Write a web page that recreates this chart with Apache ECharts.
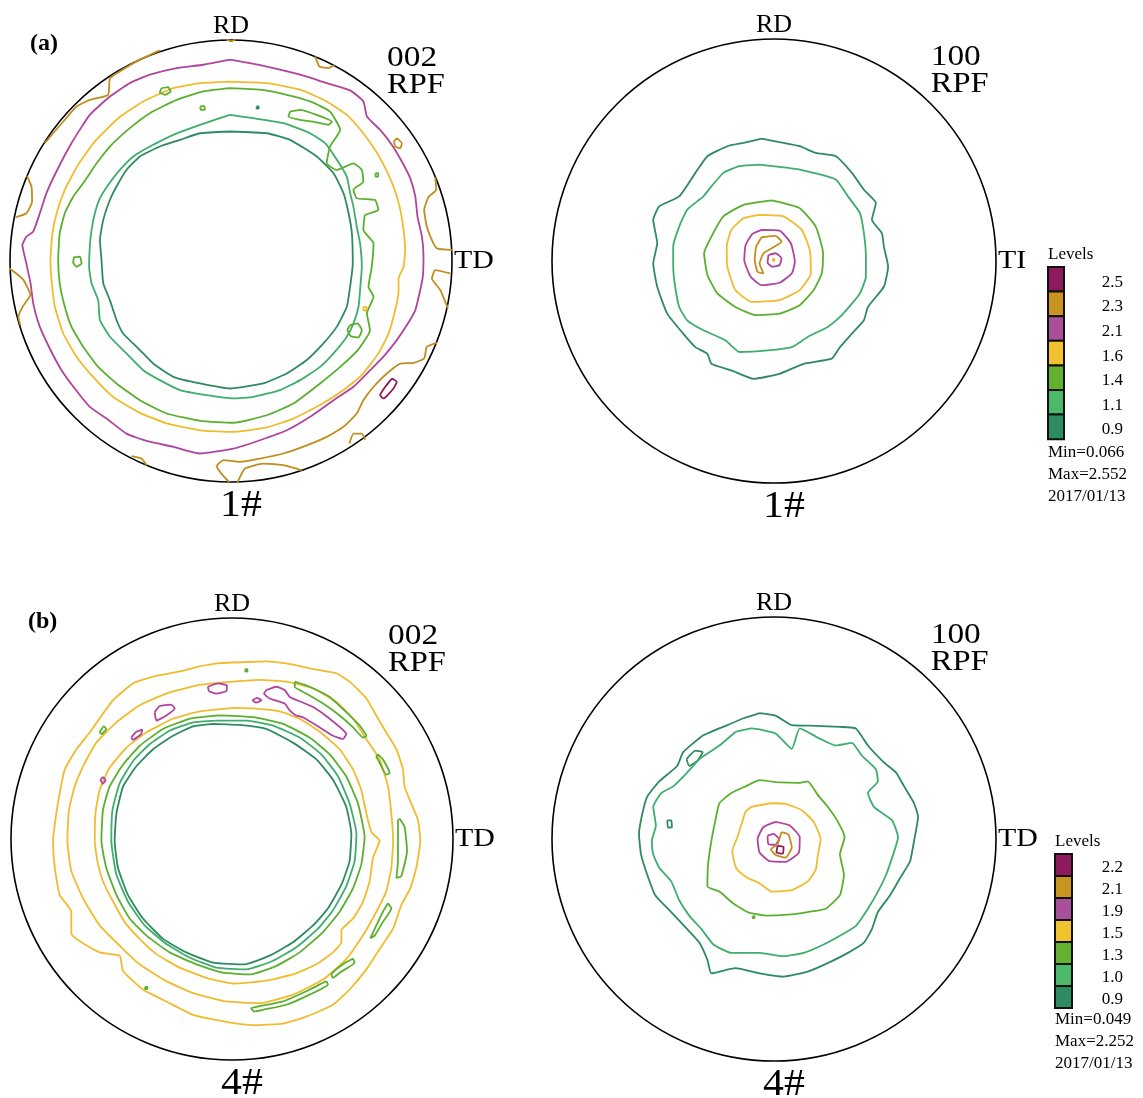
<!DOCTYPE html>
<html><head><meta charset="utf-8">
<script src="https://cdn.jsdelivr.net/npm/echarts@6/dist/echarts.min.js"></script>
<style>html,body{margin:0;padding:0;background:#fff}#c{width:1143px;height:1098px}</style>
</head><body><div id="c"></div><script>
// ---------- level colours (index 0 = lowest level) ----------
const lineColors = ['#2E8B60', '#3DAE6C', '#5AB02E', '#F0BC2E', '#B0449E', '#C08E1E', '#8E1A5C'];
const boxColors  = ['#2E8C62', '#4CB86A', '#62B230', '#F0C22E', '#A8509A', '#C8961E', '#8E1A5E'];
const levelsA = ['0.9', '1.1', '1.4', '1.6', '2.1', '2.3', '2.5'];
const levelsB = ['0.9', '1.0', '1.3', '1.5', '1.9', '2.1', '2.2'];
const statsA = ['Min=0.066', 'Max=2.552', '2017/01/13'];
const statsB = ['Min=0.049', 'Max=2.252', '2017/01/13'];
const sampleNames = ['1#', '1#', '4#', '4#'];
const poleNames = [['002', 'RPF'], ['100', 'RPF'], ['002', 'RPF'], ['100', 'RPF']];
const tdNames = ['TD', 'TI', 'TD', 'TD'];

// ---------- contour data: projected coordinates, unit circle radius = 100 ----------
// (a) 002, 1#
const a002_09 = [[-0.5,58.6],[16.2,57.8],[26.7,54.8],[38.8,47.3],[46.4,39.7],[50.9,30.7],[53.2,21.6],[54.7,12.5],[55.1,-1.1],[53.9,-11.6],[52.4,-20.7],[47.9,-29.7],[41.8,-37.3],[34.3,-44.8],[25.2,-50.9],[14.6,-55.4],[-0.5,-57.7],[-14.0,-55.4],[-26.1,-52.4],[-35.2,-46.4],[-41.2,-40.3],[-48.8,-32.8],[-51.8,-26.7],[-54.8,-17.7],[-57.8,-10.1],[-58.6,0.5],[-59.3,9.5],[-57.8,18.6],[-54.8,27.6],[-51.8,33.7],[-47.3,41.2],[-41.2,47.3],[-32.2,51.8],[-23.1,54.8],[-14.0,57.8]];
const a002_11 = [[-0.5,66.1],[10.1,64.6],[23.7,62.4],[35.8,57.8],[42.6,53.3],[47.9,45.8],[52.4,38.2],[53.9,30.7],[55.4,24.6],[56.9,15.6],[58.4,8.0],[59.2,-2.6],[58.4,-13.1],[57.7,-20.7],[55.4,-28.2],[52.4,-34.3],[46.4,-41.8],[40.3,-47.9],[31.3,-53.9],[22.2,-58.4],[10.1,-61.5],[1.1,-62.2],[-11.0,-60.7],[-23.1,-58.4],[-32.2,-53.9],[-39.7,-49.4],[-47.3,-41.8],[-54.8,-34.3],[-59.3,-26.7],[-60.1,-17.7],[-63.1,-10.1],[-64.2,-2.6],[-63.9,6.5],[-63.1,14.0],[-61.6,21.6],[-59.3,28.4],[-55.6,34.4],[-50.3,41.2],[-44.2,47.3],[-36.7,51.8],[-26.1,57.1],[-14.0,61.6]];
const a002_14 = [[-0.5,78.2],[13.1,77.5],[25.2,75.2],[35.8,72.2],[44.8,67.6],[49.4,59.3],[44.8,51.8],[43.3,44.2],[47.9,41.2],[55.4,44.2],[59.2,41.2],[59.9,35.9],[55.4,32.2],[56.9,28.4],[65.2,27.6],[66.7,23.1],[60.7,20.8],[59.9,14.0],[64.5,8.0],[63.7,-2.6],[62.2,-11.6],[64.5,-16.2],[61.5,-23.7],[62.9,-31.3],[57.4,-40.3],[49.4,-47.9],[40.3,-55.4],[28.2,-64.5],[16.2,-69.8],[1.1,-73.2],[-14.0,-72.3],[-29.1,-69.0],[-41.2,-63.0],[-51.8,-55.4],[-60.1,-47.9],[-66.9,-38.8],[-72.2,-29.7],[-75.6,-19.2],[-77.5,-10.1],[-78.2,0.5],[-77.5,12.5],[-75.2,21.6],[-71.4,29.1],[-66.9,35.2],[-60.8,44.2],[-54.8,51.8],[-45.8,60.1],[-36.7,66.9],[-24.6,72.9],[-12.5,76.7]];
const a002_16 = [[-0.5,81.2],[16.2,80.5],[31.3,77.5],[43.3,72.2],[52.4,66.1],[59.2,58.6],[65.2,50.3],[69.8,42.0],[73.5,33.7],[76.3,24.6],[78.1,14.0],[78.8,5.0],[78.1,-2.6],[75.8,-7.9],[75.8,-13.9],[74.3,-22.2],[71.3,-32.8],[66.7,-41.8],[59.2,-51.6],[50.9,-58.4],[40.3,-65.2],[28.2,-71.3],[16.2,-75.3],[1.1,-77.3],[-14.0,-76.6],[-29.1,-73.5],[-41.2,-68.7],[-53.3,-61.5],[-62.4,-52.4],[-69.9,-43.3],[-75.9,-32.8],[-79.7,-20.7],[-81.2,-8.6],[-81.7,0.5],[-80.8,12.5],[-78.7,22.3],[-75.2,32.2],[-69.2,43.5],[-61.6,54.1],[-51.0,64.6],[-39.7,72.2],[-26.1,78.2],[-14.0,80.5]];
const a002_21 = [[-0.5,91.1],[16.2,88.0],[31.3,84.3],[43.3,80.5],[53.9,77.2],[59.9,72.2],[61.5,65.4],[67.5,59.3],[72.8,52.5],[77.3,45.0],[81.1,37.4],[83.4,29.1],[84.4,20.1],[86.4,11.0],[87.1,2.0],[86.8,-7.1],[85.3,-14.6],[83.4,-22.2],[79.6,-29.0],[75.0,-35.8],[69.0,-43.3],[63.0,-49.4],[55.4,-56.9],[46.4,-63.0],[35.8,-70.5],[25.2,-76.6],[13.1,-81.1],[1.1,-84.9],[-14.0,-87.1],[-26.1,-84.1],[-38.2,-81.4],[-47.3,-78.1],[-56.3,-71.3],[-63.9,-66.0],[-70.7,-57.7],[-76.7,-49.4],[-82.0,-39.6],[-86.8,-29.0],[-89.5,-19.2],[-90.7,-10.1],[-92.6,-1.1],[-94.4,7.2],[-92.6,11.0],[-89.5,13.3],[-86.5,21.6],[-83.5,30.7],[-79.0,40.5],[-72.2,53.3],[-63.9,66.1],[-54.8,74.4],[-45.8,80.5],[-36.7,84.3],[-24.6,87.3],[-12.5,88.8]];
const a002_23a = [[-32.2,95.3],[-41.2,91.1],[-50.3,85.8],[-54.8,82.7],[-55.6,75.2],[-63.9,72.9],[-69.9,69.9],[-75.2,63.9],[-80.5,57.8],[-84.3,53.3]];
const a002_23b = [[-92.3,38.5],[-90.3,33.7],[-90.0,26.9],[-92.6,21.6],[-97.4,19.8]];
const a002_23c = [[-100.3,-3.3],[-94.1,-8.3],[-90.8,-15.4],[-94.1,-20.4],[-96.2,-25.2],[-95.3,-29.0]];
const a002_23d = [[38.1,92.6],[40.0,88.0],[44.1,87.3],[46.7,88.6]];
const a002_23e = [[92.4,37.9],[92.9,32.2],[89.4,29.1],[87.4,23.1],[88.6,15.6],[90.9,9.5],[93.2,5.7],[100.3,5.0]];
const a002_23f = [[99.2,-5.6],[92.4,-4.1],[90.9,-7.9],[94.7,-13.1],[96.9,-18.4],[98.2,-21.4]];
const a002_23g = [[93.2,-37.0],[88.6,-38.8],[87.4,-44.1],[82.6,-46.1],[76.6,-46.4],[70.5,-50.9],[64.5,-56.9],[59.9,-63.0],[56.9,-69.0],[50.9,-75.0],[43.3,-79.6],[34.3,-83.4],[23.7,-87.1],[13.1,-89.4],[4.1,-90.9],[-3.5,-90.1],[-6.5,-92.9],[-3.8,-96.9],[-0.8,-100.0]];
const a002_23h = [[2.9,-100.3],[6.3,-93.9],[14.6,-91.7],[23.7,-92.4],[32.0,-94.7]];
const a002_23i = [[53.6,-82.6],[55.4,-78.1],[59.2,-78.1],[60.7,-80.8]];
const a002_23j = [[-45.0,-88.3],[-40.5,-89.4],[-38.2,-92.4]];
const a002_23k = [[-2.0,100.1],[0,99.4],[2.0,100.1]];
const a002_23l = [[75.0,55.6],[77.3,53.3],[76.6,51.0],[74.3,51.8],[73.8,54.1]];
const a002_25 = [[72.8,-53.2],[75.0,-54.7],[73.5,-57.7],[69.0,-62.2],[67.5,-60.7],[69.8,-56.9]];
const a002_14i1 = [[-31.4,78.2],[-28.4,78.7],[-27.3,76.7],[-29.9,75.2],[-32.2,76.3]];
const a002_14i2 = [[26.7,67.6],[31.3,68.4],[38.8,66.1],[45.6,63.1],[44.1,61.6],[38.8,62.7],[31.3,63.9],[26.0,65.4]];
const a002_14i3 = [[-71.1,1.7],[-68.4,2.0],[-67.6,-1.1],[-69.9,-2.6],[-71.4,-0.8]];
const a002_14i4 = [[53.9,-29.0],[57.2,-28.2],[59.2,-31.3],[57.7,-34.6],[54.2,-34.0],[52.7,-31.3]];
const a002_14i5 = [[-14.0,69.9],[-12.2,70.2],[-11.8,68.7],[-13.6,68.4]];
const a002_14i6 = [[65.4,39.7],[66.6,39.7],[66.6,38.2],[65.4,38.2]];
const a002_11i1 = [[11.6,69.9],[12.5,69.9],[12.5,69.0],[11.6,69.0]];
const a002_16i1 = [[59.9,-20.7],[61.5,-21.0],[61.1,-22.5],[59.9,-22.2]];

// (a) 100, 1#
const a100_09 = [[-5.6,55.1],[4.3,53.2],[11.6,51.7],[18.8,48.7],[27.8,47.2],[35.1,39.7],[40.5,32.1],[45.9,26.1],[44.1,18.6],[48.6,12.5],[49.5,6.5],[51.4,-2.6],[49.5,-11.6],[42.3,-20.7],[40.5,-26.7],[35.1,-32.7],[29.7,-38.8],[26.0,-44.0],[13.4,-46.3],[2.5,-50.8],[-9.2,-53.1],[-19.2,-49.3],[-28.2,-46.3],[-30.0,-41.8],[-35.4,-38.8],[-40.9,-32.7],[-48.1,-23.7],[-52.6,-11.6],[-54.4,-1.1],[-52.6,8.0],[-54.4,18.6],[-51.7,24.6],[-42.7,29.1],[-35.4,39.7],[-30.0,47.2],[-21.0,51.7],[-13.7,53.2]];
const a100_11 = [[-6.5,43.4],[11.6,41.2],[27.8,36.7],[33.3,29.1],[38.7,21.6],[40.5,12.5],[41.4,2.0],[41.4,-7.1],[38.7,-14.6],[35.1,-19.2],[29.7,-25.2],[24.2,-29.7],[15.2,-34.2],[8.0,-38.8],[-2.9,-40.3],[-15.6,-41.0],[-21.9,-35.7],[-31.8,-31.2],[-39.1,-26.7],[-42.7,-20.7],[-44.5,-11.6],[-45.4,-2.6],[-45.4,6.5],[-42.7,15.5],[-39.1,23.1],[-31.8,29.1],[-28.2,33.6],[-22.8,39.7],[-15.6,42.7]];
const a100_14 = [[-1.1,27.3],[11.6,23.8],[18.8,15.5],[22.1,3.5],[21.5,-5.6],[17.9,-13.1],[11.6,-19.9],[2.5,-23.7],[-8.3,-24.4],[-17.4,-20.7],[-25.5,-14.6],[-30.0,-6.3],[-31.5,3.5],[-28.2,11.0],[-22.8,20.1],[-13.7,25.3]];
const a100_16 = [[-6.5,20.8],[4.3,20.1],[12.5,14.0],[16.1,5.0],[16.6,-5.6],[11.6,-13.1],[2.5,-17.6],[-10.1,-18.4],[-17.4,-13.1],[-21.0,-2.6],[-21.3,6.5],[-19.2,14.0],[-13.7,19.3]];
const a100_21 = [[-5.6,14.0],[2.5,13.7],[7.6,8.0],[9.4,-0.3],[8.0,-5.6],[2.5,-9.8],[-5.6,-10.9],[-10.5,-7.1],[-13.4,0.5],[-12.8,7.2],[-9.8,12.1]];
const a100_21i = [[-2.5,2.7],[0.7,3.5],[3.4,1.2],[2.5,-1.8],[-0.7,-2.6],[-2.9,-0.8]];
const a100_23 = [[-5.6,10.7],[0.7,11.3],[3.4,8.7],[-1.1,5.7],[-4.7,3.5],[-6.5,-1.1],[-4.7,-5.6],[-7.4,-4.8],[-8.7,0.5],[-8.0,6.5]];
const a100_23i = [[-0.6,0.9],[0.2,0.9],[0.2,0.1],[-0.6,0.1]];

// (b) 002, 4#
const b002_09 = [[-8.6,52.1],[3.5,51.6],[15.5,49.8],[27.6,43.6],[38.2,36.0],[45.7,26.8],[51.7,14.5],[54.0,2.3],[53.2,-10.0],[49.5,-20.7],[43.4,-31.4],[36.7,-39.1],[27.6,-46.7],[17.0,-52.8],[5.7,-56.7],[-8.6,-55.9],[-20.7,-51.3],[-31.2,-45.2],[-40.3,-36.0],[-47.1,-25.3],[-51.6,-13.0],[-53.1,-0.8],[-52.3,11.5],[-49.3,23.7],[-43.3,32.9],[-35.7,40.6],[-26.7,46.7],[-17.6,51.0]];
const b002_10 = [[-7.1,53.6],[6.5,53.6],[18.6,51.3],[30.6,45.9],[40.4,38.3],[48.0,28.3],[53.2,16.1],[56.3,2.3],[55.5,-10.0],[51.7,-21.4],[45.7,-32.2],[38.9,-40.6],[29.1,-49.0],[18.6,-55.1],[6.5,-59.0],[-7.1,-58.2],[-19.2,-53.6],[-29.7,-47.5],[-39.5,-39.1],[-47.1,-28.3],[-52.3,-16.1],[-54.6,-0.8],[-54.1,13.0],[-50.8,25.3],[-44.8,35.2],[-37.3,42.9],[-28.2,49.0],[-17.6,52.8]];
const b002_13 = [[-5.6,55.9],[9.5,55.1],[23.1,52.1],[35.1,45.9],[44.2,38.3],[51.7,28.3],[57.0,16.1],[60.0,0.8],[58.5,-11.5],[54.8,-22.2],[48.7,-32.9],[41.2,-42.1],[30.6,-51.3],[20.1,-57.4],[8.0,-61.3],[-4.1,-60.5],[-16.1,-56.7],[-28.2,-51.3],[-38.8,-43.6],[-46.3,-36.0],[-52.3,-25.3],[-56.9,-13.0],[-59.1,-0.8],[-58.4,13.0],[-55.4,23.7],[-49.3,33.7],[-41.8,42.1],[-31.2,49.8],[-19.2,54.4]];
const b002_15in = [[0.5,59.3],[11.0,59.0],[21.6,57.7],[30.6,54.4],[39.7,48.5],[48.7,40.6],[54.8,31.4],[58.5,22.2],[60.8,11.5],[63.1,3.1],[66.8,-0.8],[63.8,-8.4],[62.3,-19.1],[59.3,-28.3],[54.8,-36.0],[49.5,-41.3],[49.5,-46.7],[45.7,-51.3],[38.2,-56.7],[27.6,-61.3],[14.0,-64.3],[0.5,-65.4],[-11.6,-62.8],[-23.7,-58.2],[-34.2,-52.1],[-41.8,-45.2],[-48.6,-37.5],[-53.8,-28.3],[-58.4,-19.1],[-60.9,-10.0],[-62.1,-0.8],[-61.8,11.5],[-59.9,22.2],[-55.4,32.2],[-47.8,41.3],[-38.8,48.2],[-26.7,54.4],[-14.6,57.7]];
const b002_15mid = [[0.5,71.2],[12.5,72.0],[24.6,71.2],[36.7,68.1],[47.2,62.0],[54.8,54.4],[60.8,45.2],[66.8,36.0],[70.6,23.7],[72.1,11.5],[72.9,-0.8],[72.1,-13.0],[69.8,-23.7],[65.3,-32.9],[59.3,-43.6],[51.7,-54.4],[41.2,-63.6],[27.6,-70.4],[12.5,-74.3],[-2.6,-73.5],[-17.6,-69.7],[-29.7,-64.3],[-41.8,-56.7],[-49.3,-49.8],[-59.9,-39.1],[-67.4,-26.8],[-72.7,-14.5],[-74.5,-0.8],[-73.8,13.0],[-71.2,23.7],[-67.4,32.9],[-61.4,43.6],[-52.3,52.8],[-41.8,60.5],[-29.7,65.8],[-14.6,69.7]];
const b002_15out = [[6.5,80.1],[15.5,80.4],[27.6,78.9],[38.2,76.6],[47.2,75.0],[53.2,71.2],[60.8,63.6],[65.3,55.9],[69.8,48.2],[74.4,40.6],[77.4,31.4],[78.1,23.7],[81.1,16.1],[84.2,8.4],[85.2,-0.8],[83.4,-13.0],[80.7,-22.2],[76.6,-29.9],[72.9,-40.6],[66.8,-49.8],[60.8,-59.0],[53.2,-68.1],[45.7,-75.0],[33.6,-80.4],[23.1,-83.5],[9.5,-84.2],[-2.6,-82.7],[-17.6,-79.6],[-29.7,-73.5],[-40.3,-68.1],[-49.3,-59.7],[-50.8,-52.8],[-59.9,-51.3],[-72.7,-42.9],[-72.7,-32.9],[-78.0,-25.3],[-80.2,-13.0],[-81.0,-0.8],[-79.5,11.5],[-77.7,22.2],[-75.7,31.4],[-70.4,40.6],[-64.4,48.2],[-53.8,62.8],[-44.8,70.4],[-35.7,73.5],[-23.7,75.8],[-14.6,78.1],[-5.6,79.6]];
const b002_19a = [[-10.9,68.9],[-6.3,70.4],[-2.3,69.4],[-2.6,66.9],[-7.1,65.8],[-10.4,66.9]];
const b002_19b = [[-35.0,57.4],[-32.7,60.2],[-27.5,60.8],[-25.9,59.0],[-29.7,55.9],[-34.2,53.6]];
const b002_19c = [[-45.6,45.9],[-43.3,48.5],[-40.6,49.5],[-41.1,47.5],[-44.9,44.9]];
const b002_19d = [[-59.6,26.8],[-58.4,28.0],[-57.2,26.5],[-58.4,25.0]];
const b002_19e = [[9.2,62.8],[11.3,63.9],[13.3,62.8],[11.0,61.7]];
const b002_19f = [[15.6,67.4],[20.1,68.9],[23.8,67.4],[26.1,64.3],[31.4,62.0],[36.7,59.7],[44.2,54.4],[51.7,47.5],[50.2,45.2],[45.7,46.7],[39.7,50.5],[32.1,55.1],[29.1,55.9],[26.1,58.2],[23.8,61.3],[17.0,63.6],[14.5,65.8]];
const b002_13a = [[28.4,71.2],[35.1,68.9],[44.2,64.3],[51.7,57.4],[57.8,51.3],[60.8,46.7],[59.3,45.9],[54.8,50.5],[48.7,55.9],[41.2,61.3],[33.6,65.8],[28.4,68.9]];
const b002_13b = [[66.1,38.3],[68.3,36.0],[71.3,29.9],[69.8,29.1],[66.8,34.5],[65.3,37.5]];
const b002_13c = [[75.9,9.2],[78.1,5.4],[79.2,-5.4],[76.6,-16.8],[74.4,-17.6],[75.1,-10.0],[75.1,3.1],[75.1,8.4]];
const b002_13d = [[70.6,-29.1],[72.1,-31.4],[68.3,-37.5],[64.6,-43.6],[62.6,-44.9],[64.6,-40.6],[68.3,-32.9]];
const b002_13e = [[54.8,-54.1],[55.5,-55.9],[48.7,-60.5],[45.7,-62.8],[45.0,-61.3],[50.2,-56.7]];
const b002_13f = [[42.7,-64.3],[43.4,-65.8],[35.1,-70.4],[24.6,-75.0],[14.0,-77.3],[10.1,-78.1],[8.7,-76.6],[11.8,-75.8],[23.1,-73.5],[33.6,-68.9],[39.7,-65.8]];
const b002_13g = [[-59.9,48.2],[-58.1,51.0],[-56.9,49.8],[-59.1,47.5]];
const b002_13h = [[6.0,76.8],[7.0,76.8],[7.0,75.8],[6.0,75.8]];
const b002_13k = [[-39.3,-66.9],[-38.3,-66.9],[-38.3,-67.9],[-39.3,-67.9]];

// (b) 100, 4#
const b100_09 = [[-6.5,56.7],[0.7,55.6],[8.0,51.3],[18.8,51.0],[29.7,50.5],[36.9,49.8],[42.3,42.1],[49.5,34.5],[55.0,29.9],[58.6,23.7],[63.1,16.1],[64.9,10.0],[63.1,-0.8],[61.3,-10.0],[56.8,-17.6],[52.3,-25.3],[46.8,-32.9],[44.1,-40.6],[40.5,-46.7],[33.3,-51.3],[24.2,-55.9],[15.2,-59.7],[4.3,-62.0],[-6.5,-60.5],[-17.4,-58.2],[-28.2,-60.5],[-30.0,-54.4],[-33.6,-46.7],[-39.1,-40.6],[-46.3,-32.9],[-53.5,-25.3],[-57.1,-16.1],[-59.9,-6.9],[-60.8,2.3],[-59.3,11.5],[-57.1,19.1],[-51.7,26.0],[-43.6,32.9],[-40.9,39.1],[-31.8,46.7],[-21.0,51.3],[-13.7,54.4]];
const b100_09i1 = [[-48.1,8.4],[-46.3,8.4],[-46.0,5.4],[-47.7,5.1]];
const b100_09i2 = [[-39.4,36.0],[-35.4,39.8],[-32.2,39.1],[-34.5,35.2],[-38.2,32.9]];
const b100_10 = [[-17.4,48.2],[-10.1,49.8],[0.7,47.5],[8.0,40.6],[11.6,49.8],[20.6,45.2],[27.8,42.1],[35.1,43.3],[39.6,37.5],[45.9,31.4],[46.8,26.0],[42.3,20.7],[45.0,14.5],[53.2,8.4],[55.9,0.8],[53.2,-8.4],[50.5,-16.1],[46.8,-23.7],[42.3,-31.4],[36.9,-39.1],[29.7,-43.6],[22.4,-47.5],[13.4,-51.3],[4.3,-52.8],[-6.5,-51.3],[-19.2,-51.3],[-27.3,-47.5],[-32.7,-40.6],[-38.2,-34.5],[-42.7,-27.6],[-46.3,-19.1],[-51.7,-13.0],[-54.4,-6.9],[-55.0,-0.8],[-53.2,6.1],[-54.4,14.5],[-50.8,20.7],[-45.4,23.7],[-39.1,29.9],[-33.6,36.0],[-24.6,42.1]];
const b100_13 = [[0.7,25.6],[11.6,25.3],[15.2,26.0],[19.7,19.9],[24.2,14.5],[28.8,7.7],[31.8,0.8],[29.7,-6.9],[31.5,-16.1],[29.7,-25.3],[23.3,-31.4],[15.2,-32.9],[6.1,-34.1],[-3.8,-34.5],[-11.9,-32.9],[-18.3,-29.1],[-24.6,-23.7],[-30.0,-21.4],[-29.7,-11.5],[-28.2,-0.8],[-26.4,8.4],[-24.6,16.1],[-19.2,20.7],[-12.8,23.7],[-6.5,26.5]];
const b100_13i = [[-9.6,-34.8],[-8.8,-34.8],[-8.8,-35.6],[-9.6,-35.6]];
const b100_15 = [[-10.1,14.5],[-1.1,16.1],[5.2,15.8],[12.5,13.0],[17.9,7.7],[21.0,0.0],[19.7,-7.7],[18.8,-13.8],[15.2,-19.1],[8.0,-23.0],[-1.1,-23.7],[-6.5,-19.9],[-11.9,-17.6],[-15.9,-14.5],[-17.4,-12.3],[-18.8,-5.4],[-16.5,0.8],[-14.1,8.4],[-12.8,12.3]];
const b100_19 = [[0.7,7.7],[7.1,6.1],[11.6,0.8],[11.2,-6.1],[5.2,-10.3],[-2.0,-10.0],[-6.5,-6.1],[-7.4,0.0],[-4.7,5.4]];
const b100_19i = [[-2.9,1.5],[-0.2,2.3],[2.2,0.0],[0.7,-2.6],[-2.5,-2.3]];
const b100_21 = [[3.4,3.1],[6.5,2.0],[8.0,-3.8],[5.2,-8.4],[0.7,-7.2],[-1.4,-4.6],[1.6,-2.3]];
const b100_22 = [[1.6,-3.1],[4.3,-3.5],[4.0,-6.6],[1.1,-6.1]];

// ---------- panels: which contour array, level index, closed? ----------
const panels = [
  { cx: 231, cy: 261, r: 221, contours: [
    [a002_09,0,1],[a002_11,1,1],[a002_14,2,1],[a002_16,3,1],[a002_21,4,1],
    [a002_23a,5,0],[a002_23b,5,0],[a002_23c,5,0],[a002_23d,5,0],[a002_23e,5,0],[a002_23f,5,0],
    [a002_23g,5,0],[a002_23h,5,0],[a002_23i,5,0],[a002_23j,5,0],[a002_23k,5,0],[a002_23l,5,1],
    [a002_25,6,1],[a002_14i1,2,1],[a002_14i2,2,1],[a002_14i3,2,1],[a002_14i4,2,1],[a002_14i5,2,1],
    [a002_14i6,2,1],[a002_11i1,0,1],[a002_16i1,3,1]] },
  { cx: 774, cy: 261, r: 222, contours: [
    [a100_09,0,1],[a100_11,1,1],[a100_14,2,1],[a100_16,3,1],[a100_21,4,1],[a100_21i,4,1],[a100_23,5,1],[a100_23i,3,1]] },
  { cx: 232, cy: 839, r: 221, contours: [
    [b002_09,0,1],[b002_10,1,1],[b002_13,2,1],[b002_15in,3,1],[b002_15mid,3,1],[b002_15out,3,1],
    [b002_19a,4,1],[b002_19b,4,1],[b002_19c,4,1],[b002_19d,4,1],[b002_19e,4,1],[b002_19f,4,1],
    [b002_13a,2,1],[b002_13b,2,1],[b002_13c,2,1],[b002_13d,2,1],[b002_13e,2,1],[b002_13f,2,1],
    [b002_13g,2,1],[b002_13h,2,1],[b002_13k,2,1]] },
  { cx: 774, cy: 839, r: 222, contours: [
    [b100_09,0,1],[b100_09i1,0,1],[b100_09i2,0,1],[b100_10,1,1],[b100_13,2,1],[b100_13i,2,1],
    [b100_15,3,1],[b100_19,4,1],[b100_19i,4,1],[b100_21,5,1],[b100_22,6,1]] }
];

const FONT = '"Liberation Serif","Times New Roman",serif';
const grids = [], xAxes = [], yAxes = [], polars = [], angleAxes = [], radiusAxes = [], series = [];
panels.forEach((p, i) => {
  grids.push({ left: p.cx - p.r, top: p.cy - p.r, width: 2 * p.r, height: 2 * p.r, containLabel: false });
  xAxes.push({ gridIndex: i, type: 'value', min: -100, max: 100, show: false });
  yAxes.push({ gridIndex: i, type: 'value', min: -100, max: 100, show: false });
  polars.push({ center: [p.cx, p.cy], radius: p.r });
  angleAxes.push({ polarIndex: i, type: 'value', min: 0, max: 360, startAngle: 90,
    axisLine: { lineStyle: { color: '#000', width: 1.6 } }, axisTick: { show: false },
    axisLabel: { show: false }, splitLine: { show: false } });
  radiusAxes.push({ polarIndex: i, type: 'value', min: 0, max: 1, show: false,
    axisLine: { show: false }, splitLine: { show: false } });
  p.contours.forEach(c => {
    const pts = c[2] ? c[0].concat([c[0][0]]) : c[0];
    series.push({ type: 'line', xAxisIndex: i, yAxisIndex: i, data: pts, showSymbol: false,
      symbol: 'none', silent: true, animation: false, smooth: 0.15,
      lineStyle: { color: lineColors[c[1]], width: 1.8 } });
  });
});

// ---------- text & legend graphics ----------
const g = [];
function txt(x, y, s, size, align, weight, sx) {
  g.push({ type: 'text', x: x, y: y, scaleX: sx || 1, silent: true,
    style: { text: s, x: 0, y: 0, fontSize: size, fontFamily: FONT, fontWeight: weight || 'normal',
      fill: '#000', textAlign: align || 'left', align: align || 'left',
      textVerticalAlign: 'middle', verticalAlign: 'middle' } });
}
txt(30, 44, '(a)', 24, 'left', 'bold');
txt(28, 622, '(b)', 24, 'left', 'bold');
panels.forEach((p, i) => {
  const top = p.cy - p.r;
  txt(p.cx, top - 14, 'RD', 26, 'center');
  txt(p.cx + p.r * 0.706, top + 18, poleNames[i][0], 29, 'left', 'normal', 1.15);
  txt(p.cx + p.r * 0.706, top + 45, poleNames[i][1], 29, 'left', 'normal', 1.12);
  txt(p.cx + p.r + 2, p.cy, tdNames[i], 26, 'left', 'normal', 1.15);
  txt(p.cx + 10, p.cy + p.r + 24, sampleNames[i], 38, 'center', 'normal', 1.1);
});
function legend(x, top, pitch, w, levels, stats, statTop) {
  txt(x, top - 12, 'Levels', 17, 'left');
  for (let k = 0; k < 7; k++) {
    const li = 6 - k;
    g.push({ type: 'rect', silent: true, shape: { x: x, y: top + k * pitch, width: w, height: pitch },
      style: { fill: boxColors[li], stroke: '#111', lineWidth: 2 } });
    txt(1123, top + k * pitch + pitch / 2 + 3, levels[li], 17, 'right');
  }
  stats.forEach((s, k) => txt(x, statTop + k * 22, s, 17, 'left'));
}
legend(1048, 267, 24.6, 16, levelsA, statsA, 453);
legend(1055, 854, 22, 17, levelsB, statsB, 1020);

const chart = echarts.init(document.getElementById('c'), null, { renderer: 'canvas' });
chart.setOption({
  backgroundColor: '#fff', animation: false,
  grid: grids, xAxis: xAxes, yAxis: yAxes,
  polar: polars, angleAxis: angleAxes, radiusAxis: radiusAxes,
  series: series, graphic: { elements: g }
});
</script></body></html>
